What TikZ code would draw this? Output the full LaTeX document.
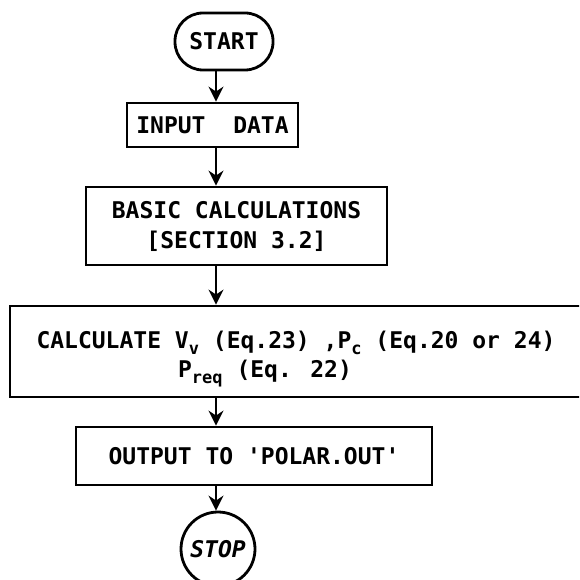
\documentclass[tikz,border=0pt]{standalone}
\usepackage{fontspec}
\newfontfamily\flowfont{DejaVu Sans Mono}
\usetikzlibrary{arrows.meta}
\newcommand{\lowidx}[1]{\raisebox{-6pt}{\fontsize{17}{17}\selectfont #1}}

\begin{document}
\begin{tikzpicture}[x=1pt, y=-1pt, line width=2.8pt,
	box/.style={draw, inner sep=0pt, align=center, font=\flowfont\bfseries\fontsize{23}{30}\selectfont},
	flow/.style={-{Stealth[length=15pt,width=15pt,inset=5pt]}}]
	\useasboundingbox (0,0) rectangle (579,580);
	\clip (0,0) rectangle (579,580);
	\coordinate (axis) at (216,0);
	\node[box, rounded corners=28pt, minimum width=98pt, minimum height=57pt] (start) at (224,41.5) {START};
	\node[box, minimum width=171pt, minimum height=44pt] (input) at (212.5,125) {INPUT\ \ DATA};
	\node[box, minimum width=301pt, minimum height=78pt] (basic) at (236.5,226) {BASIC CALCULATIONS\\{[}SECTION 3.2{]}};
	\node[box, minimum width=572pt, minimum height=91pt] (calc) at (296,351.5) {};
	\node[box, draw=none] (calctext) at (296,359) {CALCULATE V\lowidx{v} (Eq.23) ,P\lowidx{c} (Eq.20 or 24)\\[-1pt]\hspace*{-62pt}P\lowidx{req} (Eq. 22)};
	\node[box, minimum width=356pt, minimum height=58pt] (output) at (254,456) {OUTPUT TO 'POLAR.OUT'};
	\node[box, circle, minimum size=74pt, font=\flowfont\bfseries\itshape\fontsize{23}{30}\selectfont] (stop) at (218,549) {STOP};
	\draw[flow] (start.south -| axis) -- (input.north -| axis);
	\draw[flow] (input.south -| axis) -- (basic.north -| axis);
	\draw[flow] (basic.south -| axis) -- (calc.north -| axis);
	\draw[flow] (calc.south -| axis) -- (output.north -| axis);
	\draw[flow] (output.south -| axis) -- (stop.north -| axis);
\end{tikzpicture}
\end{document}
